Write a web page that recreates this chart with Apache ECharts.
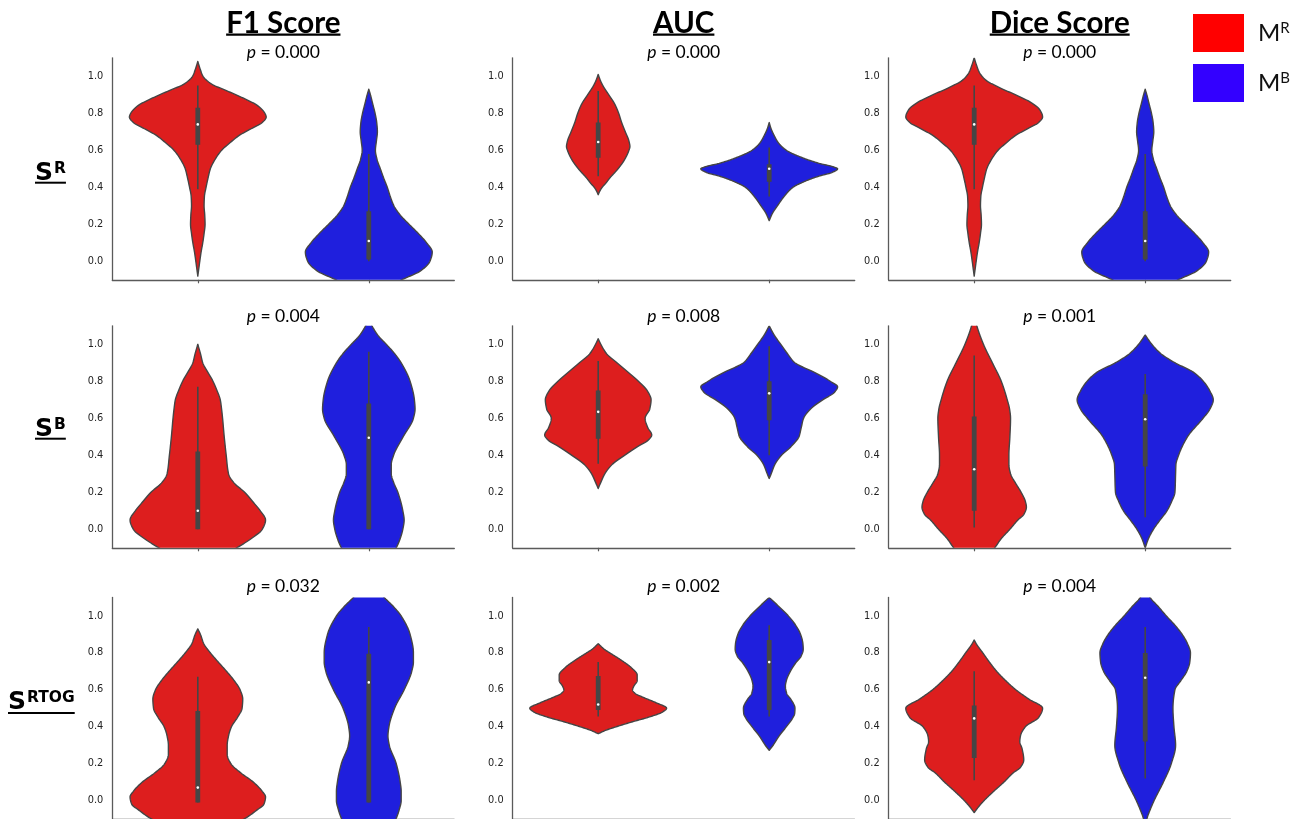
<!DOCTYPE html>
<html><head><meta charset="utf-8">
<script src="https://cdn.jsdelivr.net/npm/echarts@6/dist/echarts.min.js"></script>
<style>html,body{margin:0;padding:0;background:#fff}#c{width:1298px;height:819px}</style>
</head><body><div id="c"></div><script>
// ---------------- DATA ----------------
const metrics = ['F1 Score', 'AUC', 'Dice Score'];
const subsets = ['R', 'B', 'RTOG'];          // row labels S^x
const models = ['MR', 'MB'];                 // legend M^R, M^B
const pValues = [
  ['0.000', '0.000', '0.000'],
  ['0.004', '0.008', '0.001'],
  ['0.032', '0.002', '0.004']
];
const yTicks = [0.0, 0.2, 0.4, 0.6, 0.8, 1.0];
const DENSITY_MAX = 207; // largest kernel density (arbitrary units)

// kernel density profiles: [score, density]
const kde_SR_F1_MR = [[1.08,0],[1.04,7],[1.00,16],[0.96,40],[0.92,90],[0.88,140],[0.84,182],[0.80,203],[0.78,207],[0.75,195],[0.72,165],[0.68,125],[0.64,97],[0.60,72],[0.55,52],[0.50,38],[0.45,31],[0.40,25],[0.35,20],[0.30,19],[0.25,21],[0.20,22],[0.15,19],[0.10,15],[0.05,10],[0.00,6],[-0.04,3],[-0.08,0]];
const kde_SR_F1_MB = [[0.93,0],[0.90,5],[0.85,12],[0.80,19],[0.75,24],[0.70,26],[0.65,23],[0.60,20],[0.55,25],[0.50,35],[0.45,45],[0.40,56],[0.35,65],[0.30,76],[0.25,95],[0.20,122],[0.15,150],[0.10,175],[0.05,192],[0.00,185],[-0.05,158],[-0.10,100],[-0.15,50],[-0.20,0]];
const kde_SR_AUC_MR = [[1.01,0],[0.98,6],[0.95,14],[0.90,32],[0.85,50],[0.80,62],[0.75,71],[0.70,82],[0.65,93],[0.62,96],[0.60,93],[0.55,80],[0.50,60],[0.45,35],[0.42,22],[0.40,12],[0.38,5],[0.36,0]];
const kde_SR_AUC_MB = [[0.75,0],[0.72,5],[0.68,15],[0.64,28],[0.60,52],[0.56,100],[0.53,150],[0.51,195],[0.50,207],[0.48,190],[0.46,150],[0.43,105],[0.40,72],[0.35,45],[0.30,25],[0.26,10],[0.22,0]];
const kde_SR_DICE_MR = [[1.10,0],[1.06,7],[1.02,16],[0.98,35],[0.94,75],[0.90,125],[0.86,170],[0.82,198],[0.78,207],[0.75,195],[0.72,165],[0.68,125],[0.64,97],[0.60,72],[0.55,52],[0.50,38],[0.45,31],[0.40,25],[0.35,20],[0.30,19],[0.25,21],[0.20,22],[0.15,19],[0.10,15],[0.05,10],[0.00,6],[-0.04,3],[-0.08,0]];
const kde_SR_DICE_MB = [[0.93,0],[0.90,5],[0.85,12],[0.80,19],[0.75,24],[0.70,26],[0.65,23],[0.60,20],[0.55,25],[0.50,35],[0.45,45],[0.40,56],[0.35,65],[0.30,76],[0.25,95],[0.20,122],[0.15,150],[0.10,175],[0.05,192],[0.00,185],[-0.05,158],[-0.10,100],[-0.15,50],[-0.20,0]];

const kde_SB_F1_MR = [[1.00,0],[0.95,8],[0.90,15],[0.85,30],[0.80,46],[0.75,58],[0.70,68],[0.65,72],[0.60,75],[0.50,80],[0.40,86],[0.30,93],[0.25,110],[0.20,142],[0.15,166],[0.10,189],[0.05,205],[0.00,195],[-0.05,162],[-0.10,118],[-0.15,70],[-0.20,22],[-0.23,0]];
const kde_SB_F1_MB = [[1.15,0],[1.10,10],[1.05,27],[1.00,53],[0.95,78],[0.90,98],[0.80,125],[0.70,138],[0.65,140],[0.60,135],[0.50,104],[0.40,75],[0.35,68],[0.30,68],[0.25,76],[0.20,88],[0.10,103],[0.05,107],[0.00,103],[-0.05,95],[-0.10,83],[-0.20,40],[-0.26,0]];
const kde_SB_AUC_MR = [[1.03,0],[1.00,8],[0.95,25],[0.90,57],[0.85,90],[0.80,122],[0.75,148],[0.70,160],[0.65,156],[0.60,142],[0.55,150],[0.51,162],[0.48,150],[0.45,122],[0.40,80],[0.35,42],[0.30,20],[0.25,7],[0.22,0]];
const kde_SB_AUC_MB = [[1.10,0],[1.05,15],[1.00,35],[0.95,55],[0.90,78],[0.85,135],[0.80,185],[0.77,207],[0.74,197],[0.70,162],[0.65,125],[0.60,104],[0.55,97],[0.50,90],[0.47,78],[0.44,62],[0.40,37],[0.35,17],[0.30,6],[0.275,0]];
const kde_SB_DICE_MR = [[1.16,0],[1.10,8],[1.00,28],[0.90,55],[0.80,82],[0.70,100],[0.65,107],[0.60,110],[0.50,108],[0.40,105],[0.35,105],[0.30,110],[0.25,125],[0.20,142],[0.15,155],[0.12,158],[0.08,150],[0.05,132],[0.00,108],[-0.05,82],[-0.10,62],[-0.15,35],[-0.20,0]];
const kde_SB_DICE_MB = [[1.05,0],[1.00,20],[0.95,47],[0.90,90],[0.85,145],[0.80,176],[0.75,195],[0.70,206],[0.65,196],[0.60,175],[0.50,128],[0.40,101],[0.35,93],[0.30,92],[0.20,90],[0.15,80],[0.10,66],[0.05,45],[0.00,25],[-0.05,10],[-0.10,0]];

const kde_SRTOG_F1_MR = [[0.93,0],[0.90,8],[0.85,18],[0.80,38],[0.75,62],[0.70,87],[0.65,110],[0.60,128],[0.55,136],[0.50,134],[0.45,120],[0.40,102],[0.35,93],[0.30,89],[0.25,89],[0.20,100],[0.15,130],[0.10,168],[0.05,195],[0.02,205],[-0.02,200],[-0.05,180],[-0.10,140],[-0.15,80],[-0.20,0]];
const kde_SRTOG_F1_MB = [[1.22,0],[1.15,25],[1.10,47],[1.05,75],[1.00,98],[0.90,125],[0.80,135],[0.75,135],[0.70,130],[0.60,107],[0.50,78],[0.40,61],[0.35,58],[0.30,62],[0.20,83],[0.10,95],[0.05,98],[0.00,98],[-0.05,92],[-0.10,82],[-0.20,40],[-0.27,0]];
const kde_SRTOG_AUC_MR = [[0.85,0],[0.82,18],[0.80,35],[0.76,70],[0.72,100],[0.68,118],[0.65,118],[0.62,108],[0.60,104],[0.58,112],[0.56,135],[0.53,175],[0.50,207],[0.48,195],[0.45,150],[0.43,110],[0.40,55],[0.38,22],[0.362,0]];
const kde_SRTOG_AUC_MB = [[1.10,0],[1.05,30],[1.00,58],[0.95,80],[0.90,95],[0.85,102],[0.82,103],[0.78,96],[0.75,82],[0.70,64],[0.65,52],[0.62,49],[0.58,53],[0.55,65],[0.50,78],[0.47,77],[0.45,72],[0.40,52],[0.35,30],[0.30,12],[0.272,0]];
const kde_SRTOG_DICE_MR = [[0.87,0],[0.85,6],[0.80,26],[0.75,46],[0.70,68],[0.65,95],[0.60,126],[0.55,165],[0.50,207],[0.45,195],[0.40,155],[0.35,140],[0.32,138],[0.28,145],[0.22,150],[0.18,140],[0.15,118],[0.10,90],[0.05,59],[0.00,30],[-0.03,15],[-0.065,0]];
const kde_SRTOG_DICE_MB = [[1.16,0],[1.10,15],[1.05,40],[1.00,64],[0.95,90],[0.90,112],[0.85,128],[0.80,137],[0.75,135],[0.70,126],[0.65,108],[0.60,90],[0.50,84],[0.40,87],[0.30,92],[0.20,79],[0.10,55],[0.00,27],[-0.05,15],[-0.10,5],[-0.15,0]];

// box statistics: [whisker low, Q1, median, Q3, whisker high]
const box_SR_F1_MR = [0.39, 0.63, 0.74, 0.83, 0.95];
const box_SR_F1_MB = [0.00, 0.01, 0.11, 0.27, 0.58];
const box_SR_AUC_MR = [0.46, 0.56, 0.645, 0.75, 0.92];
const box_SR_AUC_MB = [0.35, 0.43, 0.50, 0.525, 0.615];
const box_SR_DICE_MR = [0.39, 0.63, 0.74, 0.83, 0.95];
const box_SR_DICE_MB = [0.00, 0.01, 0.11, 0.27, 0.58];
const box_SB_F1_MR = [0.00, 0.00, 0.10, 0.42, 0.77];
const box_SB_F1_MB = [0.00, 0.00, 0.495, 0.68, 0.96];
const box_SB_AUC_MR = [0.355, 0.49, 0.635, 0.75, 0.91];
const box_SB_AUC_MB = [0.40, 0.59, 0.735, 0.80, 0.99];
const box_SB_DICE_MR = [0.01, 0.10, 0.325, 0.61, 0.94];
const box_SB_DICE_MB = [0.065, 0.34, 0.595, 0.73, 0.84];
const box_SRTOG_F1_MR = [-0.01, -0.01, 0.07, 0.485, 0.67];
const box_SRTOG_F1_MB = [-0.01, -0.01, 0.64, 0.795, 0.94];
const box_SRTOG_AUC_MR = [0.455, 0.49, 0.52, 0.675, 0.75];
const box_SRTOG_AUC_MB = [0.455, 0.49, 0.75, 0.87, 0.95];
const box_SRTOG_DICE_MR = [0.11, 0.23, 0.445, 0.515, 0.70];
const box_SRTOG_DICE_MB = [0.12, 0.32, 0.665, 0.80, 0.94];

// ---------------- ASSEMBLY ----------------
const panels = [
  [[[kde_SR_F1_MR, box_SR_F1_MR], [kde_SR_F1_MB, box_SR_F1_MB]],
   [[kde_SR_AUC_MR, box_SR_AUC_MR], [kde_SR_AUC_MB, box_SR_AUC_MB]],
   [[kde_SR_DICE_MR, box_SR_DICE_MR], [kde_SR_DICE_MB, box_SR_DICE_MB]]],
  [[[kde_SB_F1_MR, box_SB_F1_MR], [kde_SB_F1_MB, box_SB_F1_MB]],
   [[kde_SB_AUC_MR, box_SB_AUC_MR], [kde_SB_AUC_MB, box_SB_AUC_MB]],
   [[kde_SB_DICE_MR, box_SB_DICE_MR], [kde_SB_DICE_MB, box_SB_DICE_MB]]],
  [[[kde_SRTOG_F1_MR, box_SRTOG_F1_MR], [kde_SRTOG_F1_MB, box_SRTOG_F1_MB]],
   [[kde_SRTOG_AUC_MR, box_SRTOG_AUC_MR], [kde_SRTOG_AUC_MB, box_SRTOG_AUC_MB]],
   [[kde_SRTOG_DICE_MR, box_SRTOG_DICE_MR], [kde_SRTOG_DICE_MB, box_SRTOG_DICE_MB]]]
];

const violinColors = ['#dd1e1e', '#1f1fdd'];
const legendColors = ['#ff0000', '#3300ff'];
const EDGE = '#454545';
const SPINE = '#5a5a5a';
const colLeft = [112.3, 512.7, 888.7];
const colWidth = 342;
const rowTop = [57.8, 325.8, 597.5];
const rowHeight = 222;

// monotone cubic (Fritsch-Carlson) interpolation of density over score
function smoothProfile(raw, samples) {
  const pts = raw.slice().sort((a, b) => a[0] - b[0]);
  const n = pts.length;
  const xs = pts.map(p => p[0]), ys = pts.map(p => p[1]);
  const dx = [], sl = [];
  for (let i = 0; i < n - 1; i++) { dx.push(xs[i + 1] - xs[i]); sl.push((ys[i + 1] - ys[i]) / dx[i]); }
  const m = new Array(n);
  m[0] = sl[0]; m[n - 1] = sl[n - 2];
  for (let i = 1; i < n - 1; i++) {
    if (sl[i - 1] * sl[i] <= 0) m[i] = 0;
    else {
      const w1 = 2 * dx[i] + dx[i - 1], w2 = dx[i] + 2 * dx[i - 1];
      m[i] = (w1 + w2) / (w1 / sl[i - 1] + w2 / sl[i]);
    }
  }
  const out = [];
  const x0 = xs[0], x1 = xs[n - 1];
  let seg = 0;
  for (let s = 0; s <= samples; s++) {
    const x = x0 + (x1 - x0) * s / samples;
    while (seg < n - 2 && x > xs[seg + 1]) seg++;
    const h = dx[seg], t = (x - xs[seg]) / h;
    const t2 = t * t, t3 = t2 * t;
    const y = (2 * t3 - 3 * t2 + 1) * ys[seg] + (t3 - 2 * t2 + t) * h * m[seg] + (-2 * t3 + 3 * t2) * ys[seg + 1] + (t3 - t2) * h * m[seg + 1];
    out.push([x, Math.max(0, y)]);
  }
  return out;
}

function makeRender(kde, box, color) {
  const sm = smoothProfile(kde, 300);
  return function (params, api) {
    const ci = api.value(0);
    const cx = api.coord([ci, 0])[0];
    const band = api.size([1, 0])[0];
    const k = band * 0.4 / DENSITY_MAX;
    const right = sm.map(p => [cx + p[1] * k, api.coord([ci, p[0]])[1]]);
    const left = sm.slice().reverse().map(p => [cx - p[1] * k, api.coord([ci, p[0]])[1]]);
    const yv = v => api.coord([ci, v])[1];
    return {
      type: 'group',
      children: [
        { type: 'polygon', shape: { points: right.concat(left) }, style: { fill: color, stroke: EDGE, lineWidth: 1.4, lineJoin: 'round' } },
        { type: 'line', shape: { x1: cx, y1: yv(box[0]), x2: cx, y2: yv(box[4]) }, style: { stroke: EDGE, lineWidth: 1.6 } },
        { type: 'rect', shape: { x: cx - 2.4, y: yv(box[3]), width: 4.8, height: yv(box[1]) - yv(box[3]) }, style: { fill: EDGE } },
        { type: 'circle', shape: { cx: cx, cy: yv(box[2]), r: 1.3 }, style: { fill: '#ffffff' } }
      ]
    };
  };
}

const grids = [], xAxes = [], yAxes = [], series = [];
for (let r = 0; r < 3; r++) {
  for (let c = 0; c < 3; c++) {
    const g = r * 3 + c;
    grids.push({ left: colLeft[c], top: rowTop[r], width: colWidth, height: rowHeight, containLabel: false });
    xAxes.push({
      type: 'category', gridIndex: g, data: models, boundaryGap: true,
      axisLine: { show: true, onZero: false, lineStyle: { color: SPINE, width: 1.3 } },
      axisTick: { show: true, alignWithLabel: true, length: 3.5, lineStyle: { color: SPINE, width: 1.2 } },
      axisLabel: { show: false }, splitLine: { show: false }
    });
    yAxes.push({
      type: 'value', gridIndex: g, min: -0.1, max: 1.1,
      axisLine: { show: true, onZero: false, lineStyle: { color: SPINE, width: 1.3 } },
      axisTick: { show: false }, splitLine: { show: false },
      axisLabel: {
        customValues: yTicks, formatter: v => v.toFixed(1),
        fontFamily: 'DejaVu Sans', fontSize: 9.8, color: '#222', margin: 9
      }
    });
    for (let m = 0; m < 2; m++) {
      const [kde, box] = panels[r][c][m];
      series.push({
        type: 'custom', name: models[m], xAxisIndex: g, yAxisIndex: g, clip: true,
        itemStyle: { color: violinColors[m] },
        data: [[m]],
        renderItem: makeRender(kde, box, violinColors[m]),
        silent: true
      });
    }
  }
}

// text measurement for underlines
const mctx = document.createElement('canvas').getContext('2d');
function tw(text, font) { mctx.font = font; return mctx.measureText(text).width; }

const graphics = [];
const TITLE_FONT = 'bold 29.5px Lato';
const titleY = 23.5;
for (let c = 0; c < 3; c++) {
  const cx = colLeft[c] + colWidth / 2;
  graphics.push({ type: 'text', x: cx, y: titleY, style: { text: metrics[c], font: TITLE_FONT, fill: '#000', align: 'center', verticalAlign: 'middle' } });
  const w = tw(metrics[c], TITLE_FONT);
  graphics.push({ type: 'rect', shape: { x: cx - w / 2, y: 33.6, width: w, height: 2.2 }, style: { fill: '#000' } });
}
const pY = [52, 316, 586];
for (let r = 0; r < 3; r++) {
  for (let c = 0; c < 3; c++) {
    const cx = colLeft[c] + colWidth / 2;
    graphics.push({
      type: 'text', x: cx, y: pY[r],
      style: {
        text: '{i|p} = ' + pValues[r][c], fontFamily: 'Lato', fontSize: 17.5, fill: '#000', align: 'center', verticalAlign: 'middle',
        rich: { i: { fontFamily: 'Lato', fontSize: 17.5, fontStyle: 'italic', fill: '#000' } }
      }
    });
  }
}
// row labels S^x
const rowLabelX = [35, 35, 8];
const rowLabelY = [173.7, 429.7, 702.7];
const rowUnderlineY = [181.7, 437.7, 712];
const S_SIZE = 25, SUP_SIZE = 15.5;
const S_FONT = 'bold ' + S_SIZE + 'px "DejaVu Sans"', SUP_FONT = 'bold ' + SUP_SIZE + 'px "DejaVu Sans"';
for (let r = 0; r < 3; r++) {
  const w = tw('S', S_FONT) + tw(subsets[r], SUP_FONT) + 1;
  graphics.push({
    type: 'text', x: rowLabelX[r], y: rowLabelY[r],
    style: {
      text: '{s|S}{t|' + subsets[r] + '}', align: 'left', verticalAlign: 'middle',
      rich: {
        s: { fontFamily: 'DejaVu Sans', fontWeight: 'bold', fontSize: S_SIZE, fill: '#000' },
        t: { fontFamily: 'DejaVu Sans', fontWeight: 'bold', fontSize: SUP_SIZE, fill: '#000', verticalAlign: 'top', padding: [0, 0, 0, 1] }
      }
    }
  });
  graphics.push({ type: 'rect', shape: { x: rowLabelX[r], y: rowUnderlineY[r], width: w, height: 2 }, style: { fill: '#000' } });
}

const chart = echarts.init(document.getElementById('c'), null, { renderer: 'canvas' });
chart.setOption({
  animation: false,
  backgroundColor: '#ffffff',
  grid: grids,
  xAxis: xAxes,
  yAxis: yAxes,
  legend: {
    data: [{ name: 'MR', itemStyle: { color: legendColors[0] } }, { name: 'MB', itemStyle: { color: legendColors[1] } }],
    orient: 'vertical', left: 1193, top: 14, itemWidth: 51, itemHeight: 38, itemGap: 12,
    icon: 'rect', selectedMode: false, padding: 0,
    formatter: n => '{m|M}{s|' + n.slice(1) + '}',
    textStyle: {
      padding: [0, 0, 0, 9],
      rich: {
        m: { fontFamily: 'Lato', fontSize: 24, color: '#111' },
        s: { fontFamily: 'Lato', fontSize: 15, color: '#111', verticalAlign: 'top' }
      }
    }
  },
  graphic: graphics,
  series: series
});
</script></body></html>
